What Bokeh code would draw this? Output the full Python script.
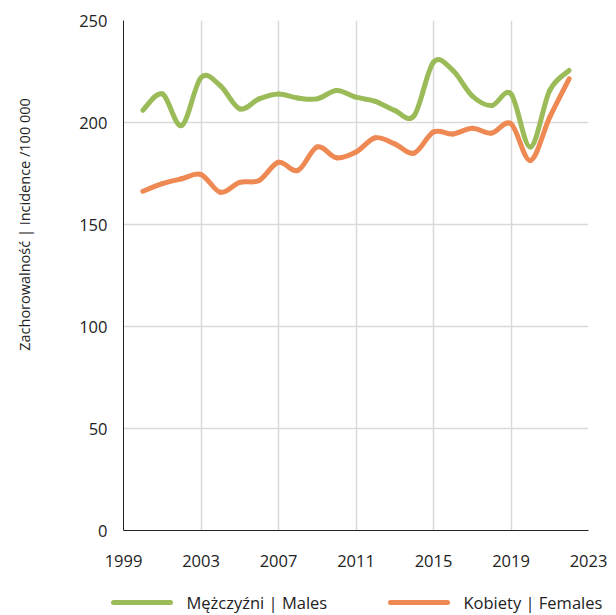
import numpy as np
from bokeh.plotting import figure
from bokeh.layouts import column, row
from bokeh.models import ColumnDataSource, FixedTicker, Label, Range1d
from bokeh.core.properties import value
from bokeh.embed import file_html
from bokeh.resources import INLINE

years = list(range(2000, 2023))
males = [206, 214, 198.5, 222, 218, 206.7, 211.6, 214, 212, 211.6, 215.7, 212.4, 210.4,
         205.9, 203.4, 229.6, 225.5, 213, 208.3, 214, 188, 215.7, 225.5]
females = [166.3, 170, 172.4, 174.5, 165.8, 170.7, 171.6, 180.5, 176.5, 188, 182.7, 185.5,
           192.5, 189.5, 185, 195.3, 194.4, 197.2, 194.8, 199.4, 181.4, 202.6, 221.4]
x_ticks = [1999, 2003, 2007, 2011, 2015, 2019, 2023]
y_ticks = [0, 50, 100, 150, 200, 250]
series_labels = ["Mężczyźni | Males", "Kobiety | Females"]
y_title = "Zachorowalność | Incidence /100 000"

GREEN = "#9BBB59"
ORANGE = "#EE8953"
FONT = "Open Sans"
TXT = "#222222"
LW = 5


def smooth_source(xs, ys):
    x = np.asarray(xs, float)
    y = np.asarray(ys, float)
    n = len(x)
    xp = np.concatenate([[x[0]], x, [x[-1]]])
    yp = np.concatenate([[y[0]], y, [y[-1]]])
    d = dict(x0=[], y0=[], x1=[], y1=[], cx0=[], cy0=[], cx1=[], cy1=[])
    for i in range(n - 1):
        j = i + 1
        d["x0"].append(xp[j]); d["y0"].append(yp[j])
        d["x1"].append(xp[j + 1]); d["y1"].append(yp[j + 1])
        d["cx0"].append(xp[j] + (xp[j + 1] - xp[j - 1]) / 6)
        d["cy0"].append(yp[j] + (yp[j + 1] - yp[j - 1]) / 6)
        d["cx1"].append(xp[j + 1] - (xp[j + 2] - xp[j]) / 6)
        d["cy1"].append(yp[j + 1] - (yp[j + 2] - yp[j]) / 6)
    return ColumnDataSource(d)


def blank(width, height):
    f = figure(width=width, height=height, output_backend="svg", toolbar_location=None,
               x_range=Range1d(0, width), y_range=Range1d(0, height),
               x_axis_location=None, y_axis_location=None,
               min_border=0, min_border_left=0, min_border_right=0, min_border_top=0, min_border_bottom=0)
    f.outline_line_color = None
    f.grid.visible = False
    return f


# main chart
p = figure(width=571, height=575, output_backend="svg", toolbar_location=None,
           x_range=Range1d(1999, 2023), y_range=Range1d(0, 250),
           min_border_left=78, min_border_right=28, min_border_top=20, min_border_bottom=45)
p.outline_line_color = None

for ax, ticks in ((p.xaxis[0], x_ticks), (p.yaxis[0], y_ticks)):
    ax.ticker = FixedTicker(ticks=ticks)
    ax.major_tick_line_color = None
    ax.minor_tick_line_color = None
    ax.axis_line_color = TXT
    ax.axis_line_width = 1
    ax.major_label_text_font = FONT
    ax.major_label_text_font_size = "16.5px"
    ax.major_label_text_color = TXT
p.yaxis.major_label_standoff = 10
p.xaxis.major_label_standoff = 18

p.xgrid.ticker = FixedTicker(ticks=x_ticks)
p.ygrid.ticker = FixedTicker(ticks=y_ticks)
p.grid.grid_line_color = "#d9d9d9"
p.grid.grid_line_width = 1.5

p.bezier(x0="x0", y0="y0", x1="x1", y1="y1", cx0="cx0", cy0="cy0", cx1="cx1", cy1="cy1",
         source=smooth_source(years, males), line_color=GREEN, line_width=LW, line_cap="round")
p.bezier(x0="x0", y0="y0", x1="x1", y1="y1", cx0="cx0", cy0="cy0", cx1="cx1", cy1="cy1",
         source=smooth_source(years, females), line_color=ORANGE, line_width=LW, line_cap="round")

# y-axis title panel
yl = blank(45, 575)
yl.add_layout(Label(x=24, y=575 - 230, text=y_title, angle=np.pi / 2, text_align="center",
                    text_baseline="middle", text_font=FONT, text_font_size="14.5px", text_color=TXT))

# legend panel (pixel coordinates)
lg = blank(616, 40)
leg_x = [113, 390]
leg_colors = [GREEN, ORANGE]
leg_y = 13
lg.segment(x0=leg_x, y0=[leg_y, leg_y], x1=[x + 57 for x in leg_x], y1=[leg_y, leg_y],
           line_color=leg_colors, line_width=LW, line_cap="round")
lg.text(x=[x + 73 for x in leg_x], y=[leg_y, leg_y], text=series_labels, text_font=value(FONT),
        text_font_size="16.5px", text_color=TXT, text_baseline="middle", text_align="left")

layout = column(row(yl, p, spacing=0), lg, spacing=0)
open("out.html", "w").write(file_html(layout, INLINE))
